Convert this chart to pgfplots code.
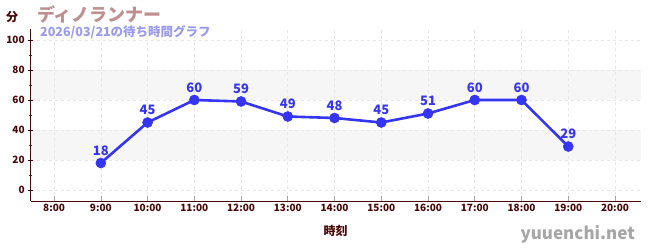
\documentclass[border=0pt]{standalone}
\usepackage{fontspec}
\setmainfont{Noto Sans CJK JP}
\usepackage{pgfplots}
\pgfplotsset{compat=1.18}
\definecolor{axc}{HTML}{4A0808}
\definecolor{linec}{HTML}{3535F5}
\definecolor{titc}{HTML}{C09090}
\definecolor{subc}{HTML}{9A9AEE}
\definecolor{bandc}{HTML}{F6F6F6}
\definecolor{gridc}{HTML}{E6E6E6}
\begin{document}
\begin{tikzpicture}
\begin{axis}[
  set layers,
  scale only axis,
  width=610pt, height=172pt,
  at={(30.7pt,49pt)}, anchor=south west,
  xmin=7.5, xmax=20.55,
  ymin=-7.3, ymax=107.3,
  axis x line*=bottom, axis y line*=left,
  axis line style={axc, line width=0.8pt},
  xtick={8,...,20},
  xticklabels={8:00,9:00,10:00,11:00,12:00,13:00,14:00,15:00,16:00,17:00,18:00,19:00,20:00},
  ytick={0,20,...,100},
  minor ytick={10,30,...,90},
  tick label style={font=\fontsize{10}{10}\selectfont\bfseries, text=axc},
  /pgf/number format/assume math mode=true,
  x tick style={gray!70, line width=0.6pt},
  y tick style={axc, line width=0.8pt},
  minor y tick style={red!80!black, line width=0.8pt},
  major tick length=5pt, minor tick length=3pt,
  xtick align=inside,
  ytick align=center,
  grid=major,
  major grid style={gridc, dashed, line width=0.6pt},
  xlabel={時刻},
  xlabel style={font=\fontsize{12}{12}\selectfont\bfseries, text=axc, yshift=-6pt},
  clip=false,
]
\addplot[fill=bandc, draw=none, on layer=axis background] coordinates {(7.5,20) (20.55,20) (20.55,40) (7.5,40)} -- cycle;
\addplot[fill=bandc, draw=none, on layer=axis background] coordinates {(7.5,60) (20.55,60) (20.55,80) (7.5,80)} -- cycle;
\addplot[linec, line width=2.6pt, mark=*, mark size=5pt, mark options={solid, fill=linec, draw=linec, line width=0.6pt},
  nodes near coords,
  every node near coord/.append style={font=\fontsize{13}{13}\selectfont\bfseries, text=linec, anchor=south, yshift=4pt}]
coordinates {(9,18) (10,45) (11,60) (12,59) (13,49) (14,48) (15,45) (16,51) (17,60) (18,60) (19,29)};
\end{axis}
\node[anchor=center, font=\fontsize{12}{12}\selectfont\bfseries, text=axc] at (12pt,233pt) {分};
\node[anchor=west, font=\fontsize{18}{18}\selectfont\bfseries, text=titc, inner sep=0] at (37pt,236pt) {ディノランナー};
\node[anchor=west, font=\fontsize{12.5}{12.5}\selectfont\bfseries, text=subc, inner sep=0] at (40pt,218pt) {2026/03/21の待ち時間グラフ};
\node[anchor=east, font=\fontsize{17}{17}\selectfont\bfseries, text=gray!70, inner sep=0] at (635pt,16pt) {yuuenchi.net};
\pgfresetboundingbox
\path[use as bounding box] (0pt,0pt) rectangle (650pt,250pt);
\end{tikzpicture}
\end{document}
